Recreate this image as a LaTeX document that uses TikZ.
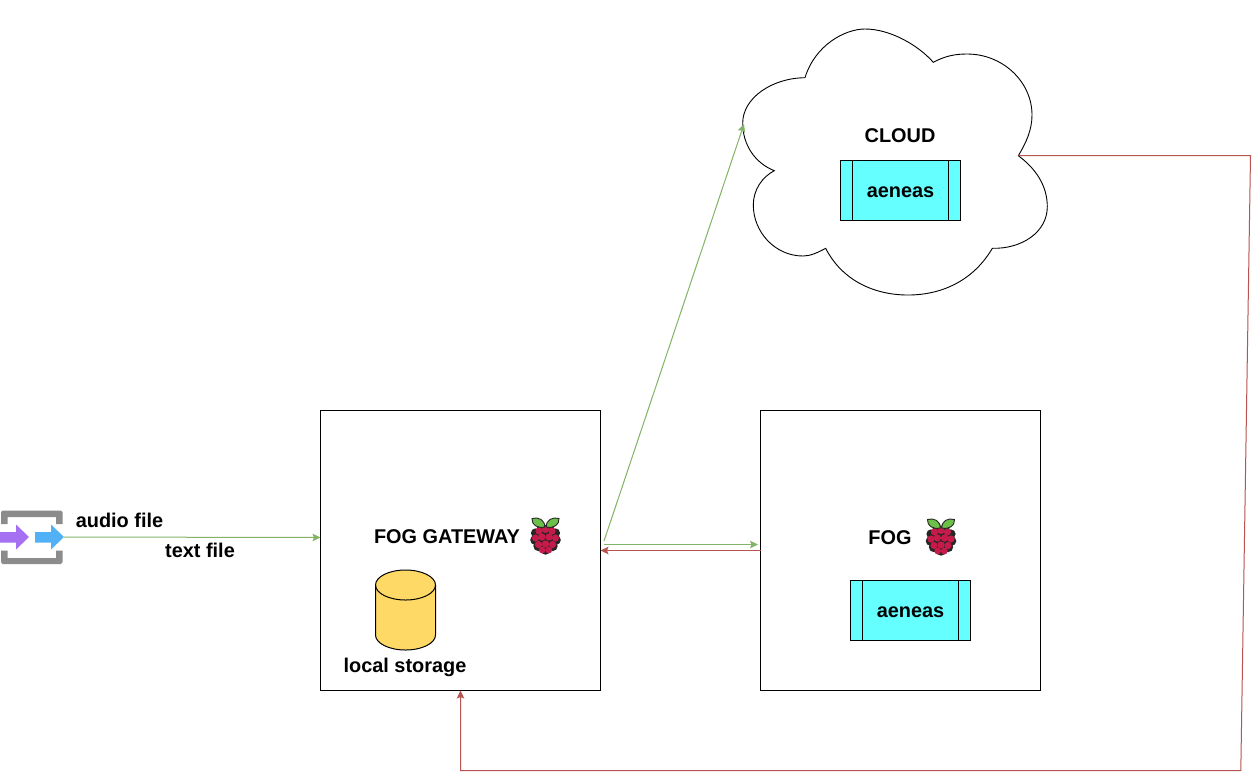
\documentclass[tikz,border=0pt]{standalone}
\usepackage{fontspec}
\setmainfont{Liberation Sans}
\usetikzlibrary{arrows.meta}
\definecolor{edgegreen}{HTML}{82B366}
\definecolor{edgered}{HTML}{B85450}
\definecolor{boxcyan}{HTML}{66FFFF}
\definecolor{dbyellow}{HTML}{FFD966}
\definecolor{icongray}{HTML}{8C8C8C}
\definecolor{iconpurple}{HTML}{A670F2}
\definecolor{iconblue}{HTML}{52B0F7}
\definecolor{berry}{HTML}{C51A4A}
\definecolor{leaf}{HTML}{6CC04A}
\tikzset{
  panel/.style={draw=black,fill=white,line width=1pt,inner sep=0pt,outer sep=0pt,minimum width=280pt,minimum height=280pt},
  procbox/.style={draw=black,fill=boxcyan,line width=1pt,inner sep=0pt,outer sep=0pt,minimum width=120pt,minimum height=60pt},
  label/.style={inner sep=0pt,outer sep=0pt,anchor=base,font=\fontsize{19.9}{23}\selectfont\bfseries},
  greenlink/.style={draw=edgegreen,line width=1pt,-{Stealth[length=8pt,width=7.5pt,inset=1.5pt]}},
  redlink/.style={draw=edgered,line width=1pt,-{Stealth[length=8pt,width=7.5pt,inset=1.5pt]}},
  pics/raspi/.style={code={
    \fill[black!85] (-4,-9) circle[radius=4.5] (4,-9) circle[radius=4.5]
      (-10,-3) circle[radius=4.6] (10,-3) circle[radius=4.6]
      (-10.5,4) circle[radius=4.8] (10.5,4) circle[radius=4.8]
      (-7,10) circle[radius=5.2] (7,10) circle[radius=5.2]
      (0,13.5) circle[radius=5.2] (0,2) circle[radius=10];
    \foreach \bx/\by/\br in {-6.5/-5/3.6,0/-6.5/3.6,6.5/-5/3.6,-10/2/3.6,-3.6/1/3.7,3.6/1/3.7,10/2/3.6,-7/8.5/3.6,0/8/3.7,7/8.5/3.6,-3.3/14/3.4,3.3/14/3.4}
      \fill[berry] (\bx,\by) circle[radius=\br];
    \draw[fill=leaf,line width=0.9pt,draw=black!85] (-0.8,-9) .. controls (-8,-7.5) and (-14,-11) .. (-13.5,-17.5)
       .. controls (-7,-19.5) and (-0.5,-16) .. (-0.8,-9) -- cycle;
    \draw[fill=leaf,line width=0.9pt,draw=black!85] (0.8,-9) .. controls (8,-7.5) and (14,-11) .. (13.5,-17.5)
       .. controls (7,-19.5) and (0.5,-16) .. (0.8,-9) -- cycle;
  }}
}
\begin{document}
\begin{tikzpicture}[x=1pt,y=-1pt]
\useasboundingbox[fill=white] (0,0) rectangle (1260,780);

% main boxes
\node[panel] (gateway) at (460.5,550.5) {};
\node[panel] (fog) at (900.5,550.5) {};

% cloud
\draw[fill=white,draw=black,line width=0.9pt]
  (805,77.7) .. controls (815,45) and (845,29) .. (865,29)
  .. controls (890,29) and (918,45) .. (933.3,62.3)
  .. controls (945,56) and (955,54) .. (967,54)
  .. controls (1003,54) and (1032,82) .. (1032,115)
  .. controls (1032,130) and (1026,143) .. (1018.3,155.7)
  .. controls (1035,168) and (1047.3,185) .. (1047.3,206.7)
  .. controls (1047.3,232) and (1022,249) .. (992.3,248.3)
  .. controls (975,278) and (945,295) .. (908,295)
  .. controls (870,295) and (840,277) .. (825.7,248.3)
  .. controls (817,253) and (810,256) .. (803,256)
  .. controls (775,256) and (753.3,232) .. (753.3,205)
  .. controls (753.3,190) and (762,177) .. (774.3,170.7)
  .. controls (755,163) and (742.7,145) .. (742.7,123)
  .. controls (742.7,98) and (772,78) .. (805,77.7) -- cycle;

% aeneas boxes
\node[procbox] (aeneasCloud) at (900.5,190.5) {};
\draw[line width=1pt] ([xshift=12pt]aeneasCloud.north west) -- ([xshift=12pt]aeneasCloud.south west);
\draw[line width=1pt] ([xshift=-12pt]aeneasCloud.north east) -- ([xshift=-12pt]aeneasCloud.south east);
\node[procbox] (aeneasFog) at (910.5,610.5) {};
\draw[line width=1pt] ([xshift=12pt]aeneasFog.north west) -- ([xshift=12pt]aeneasFog.south west);
\draw[line width=1pt] ([xshift=-12pt]aeneasFog.north east) -- ([xshift=-12pt]aeneasFog.south east);

% storage cylinder
\draw[fill=dbyellow,draw=black,line width=1pt]
  (375.5,585) -- (375.5,635)
  .. controls (375.5,643.3) and (389,650) .. (405.5,650)
  .. controls (422,650) and (435.5,643.3) .. (435.5,635)
  -- (435.5,585)
  .. controls (435.5,576.7) and (422,570) .. (405.5,570)
  .. controls (389,570) and (375.5,576.7) .. (375.5,585) -- cycle;
\draw[line width=1pt]
  (375.5,585) .. controls (375.5,593.3) and (389,600) .. (405.5,600)
  .. controls (422,600) and (435.5,593.3) .. (435.5,585);

% source icon
\fill[icongray] (1,524) -- (1,512) -- (2.5,510.5) -- (61,510.5) -- (62.5,512) -- (62.5,524) -- (56,524) -- (56,517) -- (7.5,517) -- (7.5,524) -- cycle;
\fill[icongray] (1,550.5) -- (1,562) -- (2.5,564) -- (61,564) -- (62.5,562) -- (62.5,550.5) -- (56,550.5) -- (56,558) -- (7.5,558) -- (7.5,550.5) -- cycle;
\fill[iconpurple] (0,532) -- (16,532) -- (16,524.5) -- (29,537) -- (16,549.5) -- (16,542.5) -- (0,542.5) -- cycle;
\fill[iconblue] (35,532) -- (51,532) -- (51,524.5) -- (64,537) -- (51,549.5) -- (51,542.5) -- (35,542.5) -- cycle;
\coordinate (iconOut) at (64,537);

% raspberry logos
\pic at (545.5,536) {raspi};
\pic at (941,537) {raspi};

% connector end points
\coordinate (gwIn) at (320.5,537.5);
\coordinate (gwUp) at (604,541);
\coordinate (cloudIn) at (744,124);
\coordinate (gwOut) at (604,544.5);
\coordinate (fogIn) at (758,544.5);
\coordinate (fogOut) at (760.5,550.5);
\coordinate (gwBack) at (600.5,550.5);
\coordinate (cloudOut) at (1018.3,155.5);
\coordinate (bendA) at (1250.5,155.5);
\coordinate (bendB) at (1240.8,770.5);
\coordinate (bendC) at (460.5,770.5);

\draw[greenlink] (iconOut) -- (gwIn);
\draw[greenlink] (gwUp) -- (cloudIn);
\draw[greenlink] (gwOut) -- (fogIn);
\draw[redlink] (fogOut) -- (gwBack);
\draw[redlink] (cloudOut) -- (bendA) -- (bendB) -- (bendC) -- (gateway.south);

% labels
\node[label] (tAudio) at (119.5,527) {audio file};
\node[label] (tText) at (200,557) {text file};
\node[label] (tGate) at (447,543.5) {FOG GATEWAY};
\node[label] (tStore) at (405,672) {local storage};
\node[label] (tCloud) at (900,142.5) {CLOUD};
\node[label] (tAeCloud) at (900.5,197) {aeneas};
\node[label] (tFog) at (890,544.5) {FOG};
\node[label] (tAeFog) at (910.5,617) {aeneas};
\end{tikzpicture}
\end{document}
